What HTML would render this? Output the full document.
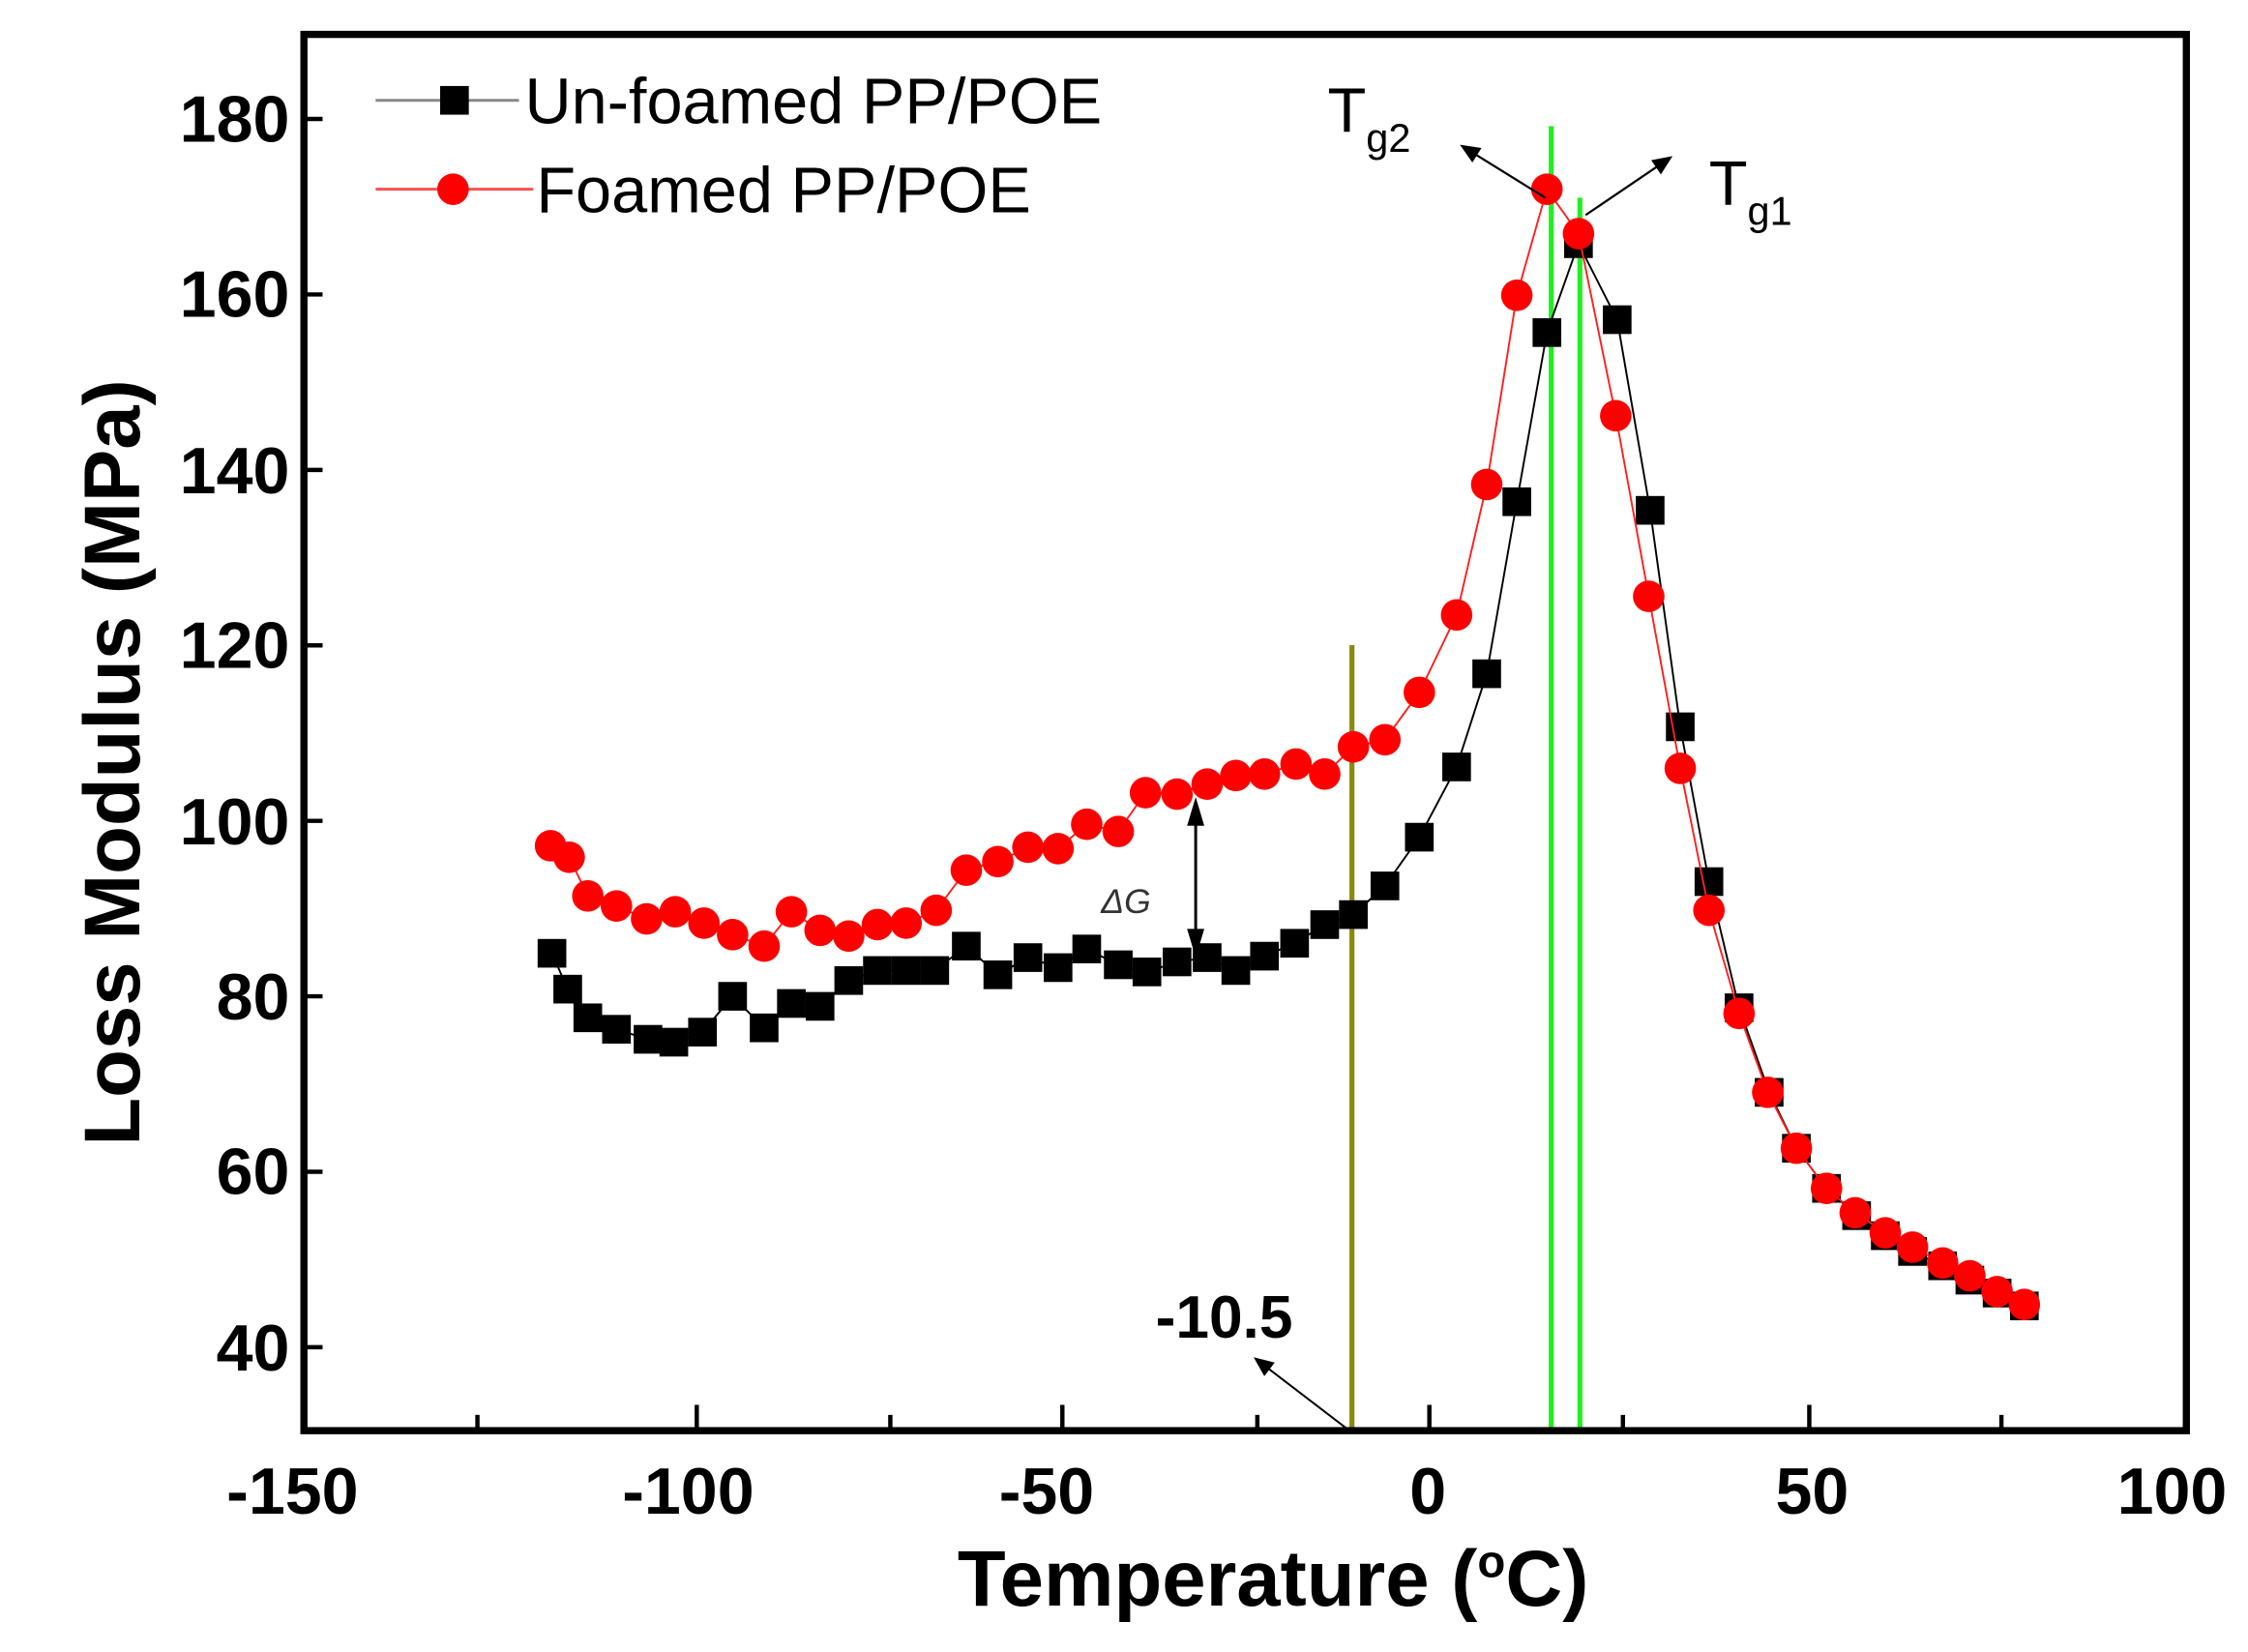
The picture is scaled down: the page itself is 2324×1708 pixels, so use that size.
<!DOCTYPE html>
<html><head><meta charset="utf-8"><style>
html,body{margin:0;padding:0;background:#fff;}
svg{display:block;}
text{font-family:"Liberation Sans",Arial,sans-serif;}
</style></head><body>
<svg width="2324" height="1708" viewBox="0 0 1568 1152.4" preserveAspectRatio="none" xmlns="http://www.w3.org/2000/svg">
<rect width="1568" height="1152.4" fill="#fff"/>
<line x1="943" y1="450" x2="943" y2="998" stroke="#8a8a10" stroke-width="3.5"/>
<line x1="1082" y1="88" x2="1082" y2="998" stroke="#22ee22" stroke-width="3.5"/>
<line x1="1102" y1="138" x2="1102" y2="998" stroke="#22ee22" stroke-width="3.5"/>
<polyline fill="none" stroke="#000" stroke-width="1.3" points="385,665 396,690 410,710 430,718 452,725 470,727 490,720 511,695 533,717 552,700 572,702 592,684 612,677 632,677 652,677 674,660 696,680 717,668 738,675 758,662 780,673 800,678 821,671 842,668 862,677 882,667 903,658 924,645 944,638 966,618 990,584 1016,535 1037,470 1058,350 1079,232 1101,170 1128,223 1151,356 1172,507 1192,615 1213,703 1234,762 1253,801 1274,829 1295,848 1315,862 1334,873 1355,883 1374,893 1393,902 1412,911"/>
<g fill="#000">
<rect x="375" y="655" width="20" height="20"/><rect x="386" y="680" width="20" height="20"/><rect x="400" y="700" width="20" height="20"/><rect x="420" y="708" width="20" height="20"/><rect x="442" y="715" width="20" height="20"/><rect x="460" y="717" width="20" height="20"/><rect x="480" y="710" width="20" height="20"/><rect x="501" y="685" width="20" height="20"/><rect x="523" y="707" width="20" height="20"/><rect x="542" y="690" width="20" height="20"/><rect x="562" y="692" width="20" height="20"/><rect x="582" y="674" width="20" height="20"/><rect x="602" y="667" width="20" height="20"/><rect x="622" y="667" width="20" height="20"/><rect x="642" y="667" width="20" height="20"/><rect x="664" y="650" width="20" height="20"/><rect x="686" y="670" width="20" height="20"/><rect x="707" y="658" width="20" height="20"/><rect x="728" y="665" width="20" height="20"/><rect x="748" y="652" width="20" height="20"/><rect x="770" y="663" width="20" height="20"/><rect x="790" y="668" width="20" height="20"/><rect x="811" y="661" width="20" height="20"/><rect x="832" y="658" width="20" height="20"/><rect x="852" y="667" width="20" height="20"/><rect x="872" y="657" width="20" height="20"/><rect x="893" y="648" width="20" height="20"/><rect x="914" y="635" width="20" height="20"/><rect x="934" y="628" width="20" height="20"/><rect x="956" y="608" width="20" height="20"/><rect x="980" y="574" width="20" height="20"/><rect x="1006" y="525" width="20" height="20"/><rect x="1027" y="460" width="20" height="20"/><rect x="1048" y="340" width="20" height="20"/><rect x="1069" y="222" width="20" height="20"/><rect x="1091" y="160" width="20" height="20"/><rect x="1118" y="213" width="20" height="20"/><rect x="1141" y="346" width="20" height="20"/><rect x="1162" y="497" width="20" height="20"/><rect x="1182" y="605" width="20" height="20"/><rect x="1203" y="693" width="20" height="20"/><rect x="1224" y="752" width="20" height="20"/><rect x="1243" y="791" width="20" height="20"/><rect x="1264" y="819" width="20" height="20"/><rect x="1285" y="838" width="20" height="20"/><rect x="1305" y="852" width="20" height="20"/><rect x="1324" y="863" width="20" height="20"/><rect x="1345" y="873" width="20" height="20"/><rect x="1364" y="883" width="20" height="20"/><rect x="1383" y="892" width="20" height="20"/><rect x="1402" y="901" width="20" height="20"/>
</g>
<polyline fill="none" stroke="#ff2020" stroke-width="1.3" points="384,590 397,598 410,625 430,632 451,641 471,636 491,644 511,652 533,660 552,636 572,649 592,653 612,645 632,644 653,635 674,607 696,601 717,591 738,592 758,575 780,580 799,553 821,554 842,547 862,541 882,540 904,533 924,540 944,521 966,516 990,483 1016,429 1037,338 1058,206 1079,132 1101,163 1127,290 1150,416 1172,536 1192,635 1213,707 1233,762 1253,801 1274,829 1294,846 1315,860 1334,870 1355,881 1374,890 1393,901 1412,910"/>
<g fill="#ff0000">
<circle cx="384" cy="590" r="11"/><circle cx="397" cy="598" r="11"/><circle cx="410" cy="625" r="11"/><circle cx="430" cy="632" r="11"/><circle cx="451" cy="641" r="11"/><circle cx="471" cy="636" r="11"/><circle cx="491" cy="644" r="11"/><circle cx="511" cy="652" r="11"/><circle cx="533" cy="660" r="11"/><circle cx="552" cy="636" r="11"/><circle cx="572" cy="649" r="11"/><circle cx="592" cy="653" r="11"/><circle cx="612" cy="645" r="11"/><circle cx="632" cy="644" r="11"/><circle cx="653" cy="635" r="11"/><circle cx="674" cy="607" r="11"/><circle cx="696" cy="601" r="11"/><circle cx="717" cy="591" r="11"/><circle cx="738" cy="592" r="11"/><circle cx="758" cy="575" r="11"/><circle cx="780" cy="580" r="11"/><circle cx="799" cy="553" r="11"/><circle cx="821" cy="554" r="11"/><circle cx="842" cy="547" r="11"/><circle cx="862" cy="541" r="11"/><circle cx="882" cy="540" r="11"/><circle cx="904" cy="533" r="11"/><circle cx="924" cy="540" r="11"/><circle cx="944" cy="521" r="11"/><circle cx="966" cy="516" r="11"/><circle cx="990" cy="483" r="11"/><circle cx="1016" cy="429" r="11"/><circle cx="1037" cy="338" r="11"/><circle cx="1058" cy="206" r="11"/><circle cx="1079" cy="132" r="11"/><circle cx="1101" cy="163" r="11"/><circle cx="1127" cy="290" r="11"/><circle cx="1150" cy="416" r="11"/><circle cx="1172" cy="536" r="11"/><circle cx="1192" cy="635" r="11"/><circle cx="1213" cy="707" r="11"/><circle cx="1233" cy="762" r="11"/><circle cx="1253" cy="801" r="11"/><circle cx="1274" cy="829" r="11"/><circle cx="1294" cy="846" r="11"/><circle cx="1315" cy="860" r="11"/><circle cx="1334" cy="870" r="11"/><circle cx="1355" cy="881" r="11"/><circle cx="1374" cy="890" r="11"/><circle cx="1393" cy="901" r="11"/><circle cx="1412" cy="910" r="11"/>
</g>
<rect x="212" y="24" width="1313" height="974" fill="none" stroke="#000" stroke-width="5"/>
<g stroke="#000" stroke-width="3">
<line x1="212" y1="83" x2="225" y2="83"/><line x1="212" y1="205.4" x2="225" y2="205.4"/><line x1="212" y1="327.8" x2="225" y2="327.8"/><line x1="212" y1="450.2" x2="225" y2="450.2"/><line x1="212" y1="572.6" x2="225" y2="572.6"/><line x1="212" y1="695" x2="225" y2="695"/><line x1="212" y1="817.4" x2="225" y2="817.4"/><line x1="212" y1="939.8" x2="225" y2="939.8"/>
<line x1="486" y1="998" x2="486" y2="980"/><line x1="741" y1="998" x2="741" y2="980"/><line x1="997" y1="998" x2="997" y2="980"/><line x1="1262" y1="998" x2="1262" y2="980"/>
<line x1="333" y1="998" x2="333" y2="987"/><line x1="621" y1="998" x2="621" y2="987"/><line x1="877" y1="998" x2="877" y2="987"/><line x1="1132" y1="998" x2="1132" y2="987"/><line x1="1396" y1="998" x2="1396" y2="987"/>
</g>
<g font-size="46" font-weight="bold" text-anchor="end">
<text x="202" y="99">180</text><text x="202" y="221">160</text><text x="202" y="344">140</text><text x="202" y="466">120</text><text x="202" y="589">100</text><text x="202" y="711">80</text><text x="202" y="833">60</text><text x="202" y="956">40</text>
</g>
<g font-size="46" font-weight="bold" text-anchor="middle">
<text x="204" y="1056">-150</text><text x="480" y="1056">-100</text><text x="730" y="1056">-50</text><text x="996" y="1056">0</text><text x="1264" y="1056">50</text><text x="1515" y="1056">100</text>
</g>
<text x="888" y="1120" font-size="55" font-weight="bold" text-anchor="middle">Temperature (<tspan font-size="32" dy="-20">o</tspan><tspan dy="20">C)</tspan></text>
<text transform="translate(97,532) rotate(-90)" font-size="55" font-weight="bold" text-anchor="middle">Loss Modulus (MPa)</text>
<line x1="262" y1="70" x2="362" y2="70" stroke="#888" stroke-width="2"/>
<rect x="307" y="60" width="20" height="20" fill="#000"/>
<text x="366" y="86" font-size="45">Un-foamed PP/POE</text>
<line x1="262" y1="132" x2="372" y2="132" stroke="#ff5050" stroke-width="2"/>
<circle cx="316" cy="132" r="11" fill="#ff0000"/>
<text x="374" y="148" font-size="45">Foamed PP/POE</text>
<defs><marker id="ah2" markerWidth="14" markerHeight="12" refX="12" refY="6" orient="auto" markerUnits="userSpaceOnUse"><path d="M0,0 L14,6 L0,12 Z" fill="#000"/></marker></defs>
<line x1="1078" y1="138" x2="1020" y2="102" stroke="#000" stroke-width="1.5" marker-end="url(#ah2)"/>
<line x1="1106" y1="150" x2="1165" y2="110" stroke="#000" stroke-width="1.5" marker-end="url(#ah2)"/>
<text x="926" y="92" font-size="44">T<tspan font-size="28" dy="14">g2</tspan></text>
<text x="1192" y="143" font-size="44">T<tspan font-size="28" dy="14">g1</tspan></text>
<line x1="940" y1="997" x2="876" y2="948" stroke="#000" stroke-width="1.3" marker-end="url(#ah2)"/>
<text x="806" y="933" font-size="42" font-weight="bold">-10.5</text>
<line x1="834" y1="562" x2="834" y2="662" stroke="#000" stroke-width="2"/>
<path d="M834,556 L828,576 L840,576 Z M834,668 L828,648 L840,648 Z" fill="#000"/>
<text x="768" y="637" font-size="24" font-family="Liberation Serif,serif" font-style="italic" fill="#333">ΔG</text>
</svg>
</body></html>
